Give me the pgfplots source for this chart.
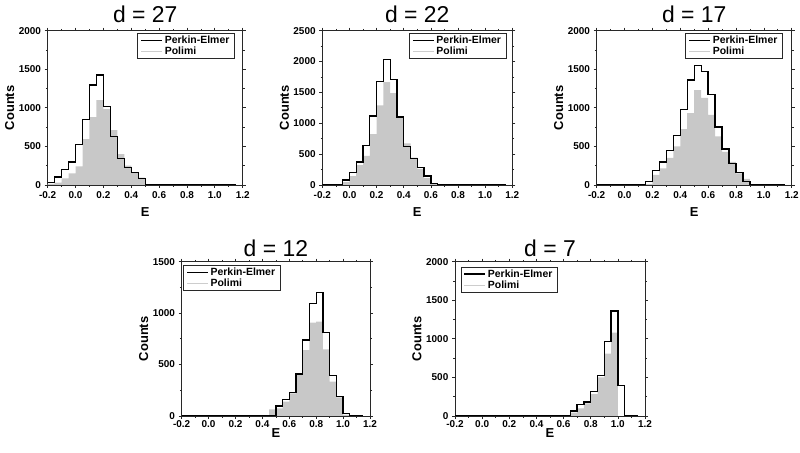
\documentclass[border=0pt]{standalone}
\usepackage{fontspec}
\setmainfont{Liberation Sans}
\usepackage{pgfplots}
\usepackage{pgfplotstable}
\pgfplotsset{compat=1.18}
\usetikzlibrary{calc}
\definecolor{polgray}{RGB}{200,200,200}
\definecolor{polleg}{RGB}{205,205,205}
\definecolor{frame}{RGB}{40,40,40}

% d = 27
\pgfplotstableread{
x pe po
-0.2 30 15
-0.15 105 30
-0.1 200 85
-0.05 300 150
0 525 240
0.05 850 595
0.1 1295 880
0.15 1425 1100
0.2 1020 985
0.25 630 710
0.3 345 400
0.35 225 250
0.4 160 155
0.45 85 95
0.5 10 5
0.55 5 2
0.6 3 0
0.65 2 0
0.7 2 0
0.75 1 0
0.8 1 0
0.85 1 0
0.9 1 0
0.95 0 0
1.0 0 0
1.05 0 0
1.1 0 0
1.15 0 0
}\dA
% d = 22
\pgfplotstableread{
x pe po
-0.2 0 0
-0.15 0 0
-0.1 0 0
-0.05 80 45
0 205 145
0.05 375 320
0.1 635 470
0.15 1120 825
0.2 1675 1290
0.25 2030 1665
0.3 1705 1490
0.35 1100 1095
0.4 620 675
0.45 430 445
0.5 285 260
0.55 145 110
0.6 25 15
0.65 3 0
0.7 0 0
0.75 0 0
0.8 0 0
0.85 0 0
0.9 0 0
0.95 0 0
1.0 0 0
1.05 0 0
1.1 0 0
1.15 0 0
}\dB
% d = 17
\pgfplotstableread{
x pe po
-0.2 0 0
-0.15 0 0
-0.1 0 0
-0.05 0 0
0 0 0
0.05 0 0
0.1 0 0
0.15 45 10
0.2 185 130
0.25 300 215
0.3 445 350
0.35 645 500
0.4 975 725
0.45 1360 930
0.5 1550 1230
0.55 1475 1130
0.6 1170 910
0.65 750 630
0.7 465 430
0.75 275 300
0.8 165 150
0.85 45 80
0.9 8 8
0.95 2 0
1.0 0 0
1.05 0 0
1.1 0 0
1.15 0 0
}\dC
% d = 12
\pgfplotstableread{
x pe po
-0.2 0 0
-0.15 0 0
-0.1 0 0
-0.05 0 0
0 0 0
0.05 0 0
0.1 0 0
0.15 0 0
0.2 0 0
0.25 0 0
0.3 0 0
0.35 0 0
0.4 0 0
0.45 0 65
0.5 97 75
0.55 162 140
0.6 230 220
0.65 408 405
0.7 739 641
0.75 1095 907
0.8 1199 917
0.85 810 648
0.9 392 334
0.95 188 180
1.0 26 10
1.05 5 0
1.1 0 0
1.15 0 0
}\dD
% d = 7
\pgfplotstableread{
x pe po
-0.2 0 0
-0.15 0 0
-0.1 0 0
-0.05 0 0
0 0 0
0.05 0 0
0.1 0 0
0.15 0 0
0.2 0 0
0.25 0 0
0.3 0 0
0.35 0 0
0.4 0 0
0.45 0 0
0.5 0 0
0.55 0 0
0.6 0 0
0.65 65 45
0.7 150 100
0.75 180 165
0.8 320 285
0.85 525 500
0.9 970 810
0.95 1360 1080
1.0 395 0
1.05 5 0
1.1 0 0
1.15 0 0
}\dE

\pgfplotsset{
  hist/.style={
    scale only axis,
    anchor=south west,
    xmin=-0.2, xmax=1.2, ymin=0,
    xtick={-0.2,0,0.2,0.4,0.6,0.8,1.0,1.2},
    minor x tick num=1, minor y tick num=1,
    tick align=outside,
    major tick length=3bp, minor tick length=1.8bp,
    axis line style={line width=0.9bp, frame},
    every tick/.style={line width=0.7bp, frame},
    /pgf/number format/assume math mode=true,
    xticklabel style={/pgf/number format/fixed, /pgf/number format/fixed zerofill, /pgf/number format/precision=1, anchor=center, inner sep=0pt, yshift=-7.5bp},
    yticklabel style={/pgf/number format/fixed, /pgf/number format/1000 sep={}, anchor=east, inner sep=0pt, xshift=-3.5bp},
    tick label style={font=\bfseries\fontsize{10}{10}\selectfont},
    xlabel={E}, ylabel={Counts},
    label style={font=\bfseries\fontsize{13}{13}\selectfont},
    ylabel style={at={($(axis description cs:0,0.5)+(-38bp,0bp)$)}, anchor=center},
    title style={font=\fontsize{23}{23}\selectfont, at={(0.5,1)}, anchor=base},
    legend style={draw=frame, line width=0.6bp, font=\bfseries\fontsize{10.5}{11}\selectfont, inner xsep=3bp, inner ysep=0.5bp, cells={anchor=west}, row sep=-2bp},
    legend image code/.code={\draw[#1] (0bp,0bp) -- (21bp,0bp);},
  },
  toprow/.style={
    title style={yshift=2bp},
    xlabel style={at={(axis description cs:0.5,0)}, anchor=center, yshift=-27bp},
  },
  botrow/.style={
    title style={yshift=-1bp},
    xticklabel style={yshift=2.5bp},
    xlabel style={at={(axis description cs:0.5,0)}, anchor=center, yshift=-17.5bp},
  },
}

\newcommand{\histo}[1]{%
  \addplot[const plot, fill=polgray, draw=none, forget plot] table[x=x,y=po]{#1} \closedcycle;
  \addplot[const plot, black, line width=1.3bp, forget plot] table[x=x,y=pe]{#1};
  \addlegendimage{black, line width=1.1bp}\addlegendentry{Perkin-Elmer}
  \addlegendimage{polleg, line width=1.1bp}\addlegendentry{Polimi}
}

\begin{document}
\begin{tikzpicture}
\useasboundingbox (0,0) rectangle (800bp,453bp);
\begin{axis}[hist, toprow, at={(47.7bp,268bp)}, width=195bp, height=154.3bp,
  ymax=2000, ytick={0,500,1000,1500,2000},
  title={d = 27},
  legend style={at={(1,1)}, anchor=north east, xshift=-8bp, yshift=-2.5bp}]
\histo{\dA}
\end{axis}
\begin{axis}[hist, toprow, at={(322.3bp,268bp)}, width=190bp, height=154.3bp,
  ymax=2500, ytick={0,500,1000,1500,2000,2500},
  title={d = 22},
  legend style={at={(1,1)}, anchor=north east, xshift=-6bp, yshift=-2.5bp}]
\histo{\dB}
\end{axis}
\begin{axis}[hist, toprow, at={(596.7bp,268bp)}, width=195bp, height=154.3bp,
  ymax=2000, ytick={0,500,1000,1500,2000},
  title={d = 17},
  legend style={at={(1,1)}, anchor=north east, xshift=-9bp, yshift=-2.5bp}]
\histo{\dC}
\end{axis}
\begin{axis}[hist, botrow, at={(181.7bp,37bp)}, width=188.3bp, height=154.3bp,
  ymax=1500, ytick={0,500,1000,1500},
  title={d = 12},
  legend style={at={(0,1)}, anchor=north west, xshift=1.5bp, yshift=-3.3bp}]
\histo{\dD}
\end{axis}
\begin{axis}[hist, botrow, at={(455bp,37bp)}, width=190bp, height=154.3bp,
  ymax=2000, ytick={0,500,1000,1500,2000},
  title={d = 7},
  legend style={at={(0,1)}, anchor=north west, xshift=5.5bp, yshift=-5bp}]
\histo{\dE}
\end{axis}
\end{tikzpicture}
\end{document}
